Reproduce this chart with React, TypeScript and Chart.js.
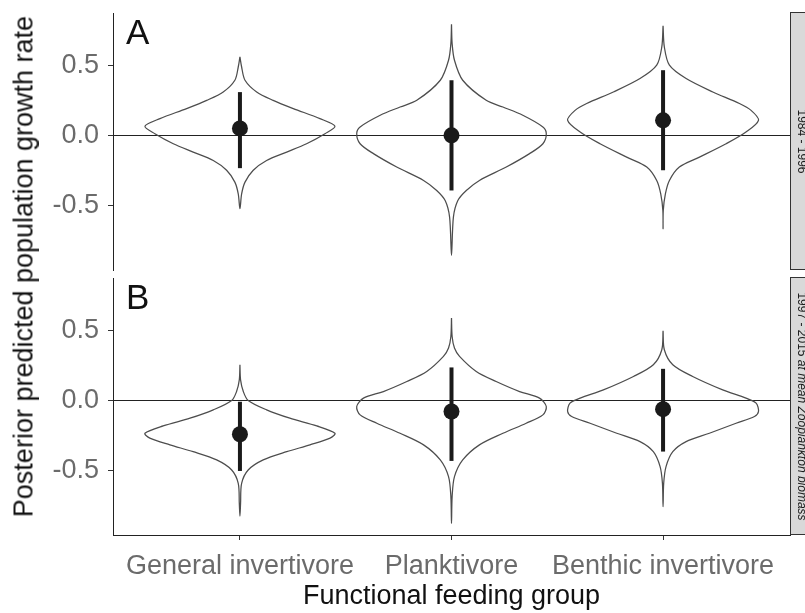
import React, { useEffect, useRef } from "react";
import { Chart, registerables } from "chart.js";

Chart.register(...registerables);

const FONT = '"Liberation Sans", Arial, Helvetica, sans-serif';

// ---------- data ----------
const categories = ["General invertivore", "Planktivore", "Benthic invertivore"];
const yTickValues = [-0.5, 0, 0.5];
const yMin = -0.965;
const yMax = 0.877;
const xMin = 0.4;
const xMax = 3.6;

const yAxisTitle = "Posterior predicted population growth rate";
const xAxisTitle = "Functional feeding group";
const panelLetters = ["A", "B"];
const stripUpright = ["1984 - 1996", "1997 - 2015 "];
const stripItalic = ["", "at mean Zooplankton biomass"];

// Panel A (1984 - 1996): posterior median and interval
const medianA = [0.05, 0.0, 0.108];
const lowerA = [-0.235, -0.395, -0.25];
const upperA = [0.31, 0.395, 0.467];

// Panel B (1997 - 2015)
const medianB = [-0.243, -0.08, -0.063];
const lowerB = [-0.506, -0.434, -0.367];
const upperB = [-0.01, 0.236, 0.226];

// Violin profiles: growth-rate values (top to bottom) and half widths (category units)
const violinA1Values = [0.562, 0.49, 0.395, 0.311, 0.251, 0.192, 0.12, 0.065, 0.012, -0.06, -0.12, -0.18, -0.25, -0.335, -0.419, -0.526];
const violinA1Widths = [0, 0.008, 0.024, 0.079, 0.157, 0.252, 0.378, 0.449, 0.402, 0.315, 0.221, 0.126, 0.063, 0.024, 0.008, 0];

const violinA2Values = [0.797, 0.658, 0.538, 0.395, 0.251, 0.203, 0.144, 0.06, 0.012, -0.06, -0.131, -0.227, -0.323, -0.395, -0.467, -0.586, -0.861];
const violinA2Widths = [0, 0.003, 0.014, 0.053, 0.164, 0.243, 0.337, 0.432, 0.448, 0.432, 0.369, 0.259, 0.132, 0.07, 0.03, 0.009, 0];

const violinA3Values = [0.785, 0.634, 0.503, 0.407, 0.311, 0.228, 0.179, 0.108, 0.024, -0.06, -0.156, -0.227, -0.323, -0.419, -0.538, -0.67];
const violinA3Widths = [0, 0.006, 0.03, 0.109, 0.235, 0.361, 0.416, 0.451, 0.392, 0.298, 0.172, 0.077, 0.03, 0.011, 0.001, 0];

const violinB1Values = [0.255, 0.147, 0.063, -0.001, -0.068, -0.128, -0.183, -0.236, -0.271, -0.319, -0.368, -0.427, -0.499, -0.595, -0.738, -0.829];
const violinB1Widths = [0, 0.003, 0.016, 0.039, 0.126, 0.236, 0.363, 0.449, 0.426, 0.331, 0.221, 0.11, 0.039, 0.008, 0.003, 0];

const violinB2Values = [0.59, 0.458, 0.375, 0.315, 0.207, 0.135, 0.063, 0.016, -0.044, -0.104, -0.164, -0.236, -0.319, -0.427, -0.547, -0.69, -0.882];
const violinB2Widths = [0, 0.003, 0.014, 0.038, 0.117, 0.211, 0.322, 0.416, 0.448, 0.432, 0.353, 0.243, 0.132, 0.053, 0.014, 0.003, 0];

const violinB3Values = [0.499, 0.363, 0.255, 0.171, 0.075, 0.016, -0.02, -0.08, -0.116, -0.164, -0.236, -0.296, -0.368, -0.475, -0.594, -0.762];
const violinB3Widths = [0, 0.006, 0.046, 0.14, 0.282, 0.392, 0.44, 0.451, 0.432, 0.345, 0.219, 0.109, 0.046, 0.014, 0.003, 0];

// ---------- helpers ----------
function outline(center: number, values: number[], widths: number[]) {
  const right = values.map((v, k) => ({ x: center + widths[k], y: v }));
  const left: { x: number; y: number }[] = [];
  for (let k = values.length - 2; k >= 0; k--) left.push({ x: center - widths[k], y: values[k] });
  return [...right, ...left];
}

function decorPlugin(letter: string, upright: string, italic: string) {
  return {
    id: "decor" + letter,
    afterDraw(chart: any) {
      const { ctx, chartArea } = chart;
      const { left, top, right, bottom } = chartArea;
      ctx.save();
      ctx.fillStyle = "#d9d9d9";
      ctx.fillRect(right, top, 30, bottom - top);
      ctx.strokeStyle = "#333333";
      ctx.lineWidth = 1;
      ctx.strokeRect(Math.round(right) + 0.5, Math.round(top) - 0.5, 30, Math.round(bottom - top));
      const fUp = `12px ${FONT}`;
      const fIt = `italic 12px ${FONT}`;
      ctx.font = fUp;
      const w1 = ctx.measureText(upright).width;
      ctx.font = fIt;
      const w2 = italic ? ctx.measureText(italic).width : 0;
      const total = w1 + w2;
      ctx.translate(right + 7.5, (top + bottom) / 2);
      ctx.rotate(Math.PI / 2);
      ctx.fillStyle = "#1a1a1a";
      ctx.textBaseline = "alphabetic";
      ctx.textAlign = "left";
      ctx.font = fUp;
      ctx.fillText(upright, -total / 2, 0);
      if (italic) {
        ctx.font = fIt;
        ctx.fillText(italic, -total / 2 + w1, 0);
      }
      ctx.restore();

      ctx.save();
      ctx.font = `35px ${FONT}`;
      ctx.fillStyle = "#111111";
      ctx.textBaseline = "alphabetic";
      ctx.textAlign = "left";
      ctx.fillText(letter, left + 13, top + 31);
      ctx.restore();
    },
  };
}

function buildConfig(
  violins: [number[], number[]][],
  medians: number[],
  lowers: number[],
  uppers: number[],
  showX: boolean,
  panel: number
): any {
  const datasets: any[] = [];
  violins.forEach(([vals, wids], i) => {
    datasets.push({
      data: outline(i + 1, vals, wids),
      showLine: true,
      pointRadius: 0,
      borderColor: "#4d4d4d",
      borderWidth: 1.25,
      tension: 0.3,
      fill: false,
      order: 3,
    });
  });
  categories.forEach((_, i) => {
    datasets.push({
      data: [
        { x: i + 1, y: lowers[i] },
        { x: i + 1, y: uppers[i] },
      ],
      showLine: true,
      pointRadius: 0,
      borderColor: "#1a1a1a",
      borderWidth: 4,
      borderCapStyle: "butt",
      order: 2,
    });
  });
  datasets.push({
    data: medians.map((m, i) => ({ x: i + 1, y: m })),
    showLine: false,
    pointRadius: 8,
    pointBackgroundColor: "#1a1a1a",
    pointBorderWidth: 0,
    order: 1,
  });

  return {
    type: "scatter",
    data: { datasets },
    options: {
      animation: false,
      responsive: false,
      devicePixelRatio: 1,
      events: [],
      layout: { padding: { top: 13, bottom: showX ? 0 : 3, left: 0, right: 15 } },
      plugins: { legend: { display: false }, tooltip: { enabled: false } },
      scales: {
        x: {
          type: "linear",
          min: xMin,
          max: xMax,
          display: showX,
          afterBuildTicks: (s: any) => {
            s.ticks = categories.map((_, i) => ({ value: i + 1 }));
          },
          afterFit: (s: any) => {
            if (showX) s.height = 78;
            else s.height = 0;
            s.paddingLeft = 0;
            s.paddingRight = 0;
          },
          ticks: {
            callback: (v: any) => categories[Math.round(Number(v)) - 1] ?? "",
            color: "#6b6b6b",
            font: { size: 27, family: FONT },
            padding: 10,
            maxRotation: 0,
            minRotation: 0,
            autoSkip: false,
          },
          grid: { drawOnChartArea: false, drawTicks: true, tickLength: 5, tickColor: "#333333", color: "#333333" },
          border: { display: true, color: "#222222", width: 1 },
          title: {
            display: true,
            text: xAxisTitle,
            color: "#111111",
            font: { size: 27, family: FONT },
            padding: { top: 0, bottom: 0 },
          },
        },
        y: {
          type: "linear",
          min: yMin,
          max: yMax,
          afterBuildTicks: (s: any) => {
            s.ticks = yTickValues.map((v) => ({ value: v }));
          },
          afterFit: (s: any) => {
            s.width = 113;
            s.paddingTop = 0;
            s.paddingBottom = 0;
          },
          ticks: {
            callback: (v: any) => Number(v).toFixed(1),
            color: "#6b6b6b",
            font: { size: 27, family: FONT },
            padding: 9,
          },
          grid: {
            drawOnChartArea: true,
            drawTicks: true,
            tickLength: 5,
            tickColor: "#333333",
            lineWidth: 1,
            color: (c: any) => (c.tick && c.tick.value === 0 ? "#222222" : "rgba(0,0,0,0)"),
          },
          border: { display: true, color: "#222222", width: 1 },
        },
      },
    },
    plugins: [decorPlugin(panelLetters[panel], stripUpright[panel], stripItalic[panel])],
  };
}

export default function App() {
  const refA = useRef<HTMLCanvasElement | null>(null);
  const refB = useRef<HTMLCanvasElement | null>(null);

  useEffect(() => {
    if (!refA.current || !refB.current) return;
    const chartA = new Chart(
      refA.current,
      buildConfig(
        [
          [violinA1Values, violinA1Widths],
          [violinA2Values, violinA2Widths],
          [violinA3Values, violinA3Widths],
        ],
        medianA,
        lowerA,
        upperA,
        false,
        0
      )
    );
    const chartB = new Chart(
      refB.current,
      buildConfig(
        [
          [violinB1Values, violinB1Widths],
          [violinB2Values, violinB2Widths],
          [violinB3Values, violinB3Widths],
        ],
        medianB,
        lowerB,
        upperB,
        true,
        1
      )
    );
    return () => {
      chartA.destroy();
      chartB.destroy();
    };
  }, []);

  return (
    <div
      style={{
        position: "absolute",
        left: 0,
        top: 0,
        width: 805,
        height: 613,
        overflow: "hidden",
        background: "#ffffff",
        fontFamily: FONT,
      }}
    >
      <canvas ref={refA} width={805} height={278} style={{ position: "absolute", left: 0, top: 0 }} />
      <canvas ref={refB} width={805} height={348} style={{ position: "absolute", left: 0, top: 265 }} />
      <div
        style={{
          position: "absolute",
          left: 24 - 300,
          top: 266 - 13.5,
          width: 600,
          height: 27,
          lineHeight: "27px",
          fontSize: 27,
          textAlign: "center",
          color: "#111111",
          whiteSpace: "nowrap",
          transform: "rotate(-90deg)",
          transformOrigin: "50% 50%",
        }}
      >
        {yAxisTitle}
      </div>
    </div>
  );
}
